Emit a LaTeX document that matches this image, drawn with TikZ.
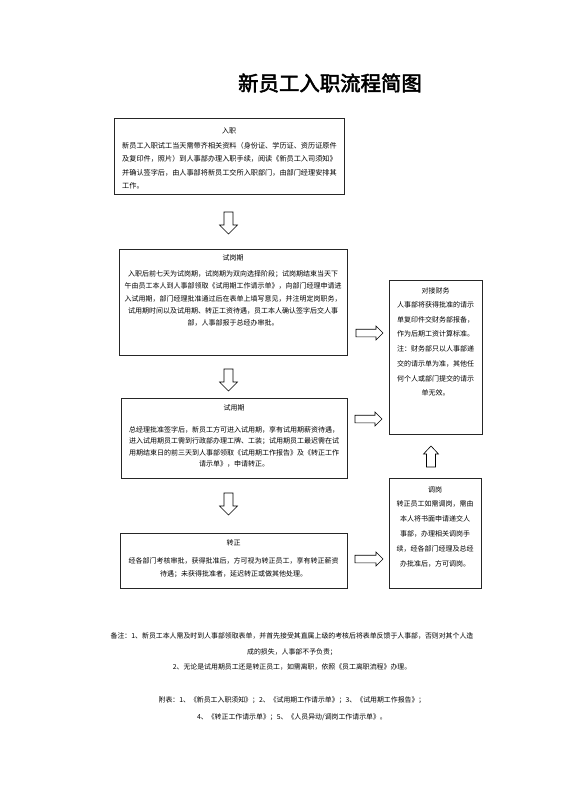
\documentclass[tikz,border=0pt]{standalone}
\usepackage{fontspec}
\setmainfont{Noto Sans CJK SC}[AutoFakeBold=2.5]
\tikzset{
  box/.style={draw=black!85, line width=0.8pt},
  blk/.style={draw=black, line width=0.6pt, fill=white, line join=miter},
  txt/.style={inner sep=0pt, align=center, font=\fontsize{7}{12.3}\selectfont},
  ttl/.style={inner sep=0pt, font=\fontsize{7}{8}\selectfont},
}
\newcommand\ArrDown[3]{\draw[blk] (#1-4.5,#2) -- (#1+4.5,#2) -- (#1+4.5,#3-9) -- (#1+9,#3-9) -- (#1,#3) -- (#1-9,#3-9) -- (#1-4.5,#3-9) -- cycle;}
\newcommand\ArrUp[3]{\draw[blk] (#1-4.5,#2) -- (#1+4.5,#2) -- (#1+4.5,#3+8) -- (#1+7.5,#3+8) -- (#1,#3) -- (#1-7.5,#3+8) -- (#1-4.5,#3+8) -- cycle;}
\newcommand\ArrRight[3]{\draw[blk] (#2,#1-3.8) -- (#3-7,#1-3.8) -- (#3-7,#1-7) -- (#3,#1) -- (#3-7,#1+7) -- (#3-7,#1+3.8) -- (#2,#1+3.8) -- cycle;}
\begin{document}
\begin{tikzpicture}[x=1pt,y=-1pt]
\useasboundingbox[fill=white] (0,0) rectangle (560,792);

\node[inner sep=0pt, font=\fontsize{20.4}{22}\selectfont\bfseries] (title) at (330,83) {新员工入职流程简图};

% boxes
\draw[box] (114,118) rectangle (344,194);
\node[coordinate] (b1) at (229,156) {};
\node[ttl] (b1t) at (229,131) {入职};
\node[txt, align=left, anchor=west, font=\fontsize{7.15}{13.5}\selectfont] (b1b) at (122,165.5) {新员工入职试工当天需带齐相关资料（身份证、学历证、资历证原件\\及复印件，照片）到人事部办理入职手续，阅读《新员工入司须知》\\并确认签字后，由人事部将新员工交所入职部门，由部门经理安排其\\工作。};

\draw[box] (119,249) rectangle (347,355);
\node[ttl] (b2t) at (233,258) {试岗期};
\node[txt] (b2b) at (233,298.5) {入职后前七天为试岗期，试岗期为双向选择阶段；试岗期结束当天下\\午由员工本人到人事部领取《试用期工作请示单》，向部门经理申请进\\入试用期，部门经理批准通过后在表单上填写意见，并注明定岗职务，\\试用期时间以及试用期、转正工资待遇，员工本人确认签字后交人事\\部，人事部报于总经办审批。};

\draw[box] (121,398) rectangle (347,478);
\node[ttl] (b3t) at (234,408) {试用期};
\node[txt, font=\fontsize{7}{11.5}\selectfont] (b3b) at (234,447) {总经理批准签字后，新员工方可进入试用期，享有试用期薪资待遇，\\进入试用期员工需到行政部办理工牌、工装；试用期员工最迟需在试\\用期结束日的前三天到人事部领取《试用期工作报告》及《转正工作\\请示单》，申请转正。};

\draw[box] (120,533) rectangle (347,588);
\node[ttl] (b4t) at (233.5,543) {转正};
\node[txt, font=\fontsize{7}{13}\selectfont] (b4b) at (233.5,567.5) {经各部门考核审批，获得批准后，方可视为转正员工，享有转正薪资\\待遇；未获得批准者，延迟转正或做其他处理。};

\draw[box] (389,280) rectangle (482,434);
\node[ttl] (r1t) at (435.5,291) {对接财务};
\node[txt, font=\fontsize{7}{14.7}\selectfont] (r1b) at (435.5,349) {人事部将获得批准的请示\\单复印件交财务部报备，\\作为后期工资计算标准。\\注：财务部只以人事部递\\交的请示单为准，其他任\\何个人或部门提交的请示\\单无效。};

\draw[box] (389,478) rectangle (481,588);
\node[ttl] (r2t) at (435,490) {调岗};
\node[txt, font=\fontsize{7}{15}\selectfont] (r2b) at (435,534) {转正员工如需调岗，需由\\本人将书面申请递交人\\事部，办理相关调岗手\\续，经各部门经理及总经\\办批准后，方可调岗。};

% block arrows
\ArrDown{228.5}{212}{234}
\ArrDown{228.5}{369}{391}
\ArrDown{228.5}{493}{515}
\ArrRight{333}{356}{383}
\ArrRight{419}{355}{382}
\ArrRight{559}{355}{383}
\ArrUp{431}{467}{446}

% notes
\node[txt, font=\fontsize{6.9}{15.5}\selectfont] (notes) at (292,651.5) {备注：1、新员工本人需及时到人事部领取表单，并首先接受其直属上级的考核后将表单反馈于人事部，否则对其个人造\\成的损失，人事部不予负责；\\2、无论是试用期员工还是转正员工，如需离职，依照《员工离职流程》办理。};
\node[txt, font=\fontsize{6.9}{17}\selectfont] (appx) at (292,708.5) {附表：1、《新员工入职须知》；2、《试用期工作请示单》；3、《试用期工作报告》；\\4、《转正工作请示单》；5、《人员异动/调岗工作请示单》。};
\end{tikzpicture}
\end{document}
